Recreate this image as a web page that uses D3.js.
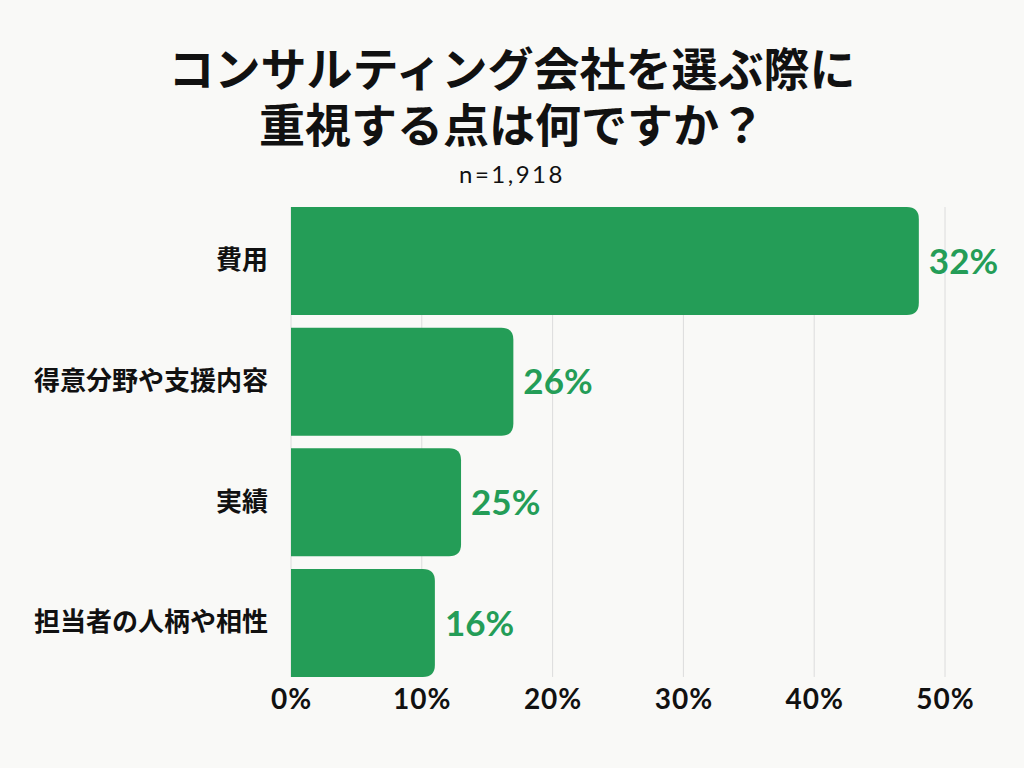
<!DOCTYPE html>
<html>
<head>
<meta charset="utf-8">
<script src="https://cdn.jsdelivr.net/npm/d3@7"></script>
<style>
  body { margin: 0; background: #f9f9f7; }
  #main { position: relative; width: 1024px; height: 768px; }
  svg { display: block; }
  #title {
    position: absolute; left: 0; top: 38px; width: 1024px;
    text-align: center;
    font-family: 'Noto Sans CJK JP', sans-serif;
    font-weight: 700; font-size: 46px; line-height: 56px;
    color: #111;
  }
</style>
</head>
<body>
<div id="main"></div>
<script>
const titleLines = ["コンサルティング会社を選ぶ際に", "重視する点は何ですか？"];
const categories = ["費用", "得意分野や支援内容", "実績", "担当者の人柄や相性"];
// bar lengths as drawn in the picture (in % of the axis)
const barValues = [48, 17, 13, 11];
// percentage labels printed next to each bar
const barLabels = ["32%", "26%", "25%", "16%"];
const xTicks = [0, 10, 20, 30, 40, 50];

const ctx = {
    w: 1024,
    h: 768,
    GREEN: "#249d57",
    RADIUS: 12
};

function barPath(x0, y0, x1, h, r) {
    // square on the left, rounded on the right
    r = Math.min(r, (x1 - x0), h / 2);
    return `M${x0},${y0}H${x1 - r}Q${x1},${y0} ${x1},${y0 + r}`
         + `V${y0 + h - r}Q${x1},${y0 + h} ${x1 - r},${y0 + h}H${x0}Z`;
}

function createViz() {
    let main = d3.select("#main");
    let svg = main.append("svg")
        .attr("width", ctx.w)
        .attr("height", ctx.h);

    svg.append("rect")
        .attr("width", ctx.w).attr("height", ctx.h)
        .attr("fill", "#f9f9f7");

    // title as html lines so the line boxes stack cleanly
    main.append("div").attr("id", "title")
        .selectAll("div")
        .data(titleLines)
        .enter()
        .append("div")
        .text((d) => d);

    let x = d3.scaleLinear().domain([0, 50]).range([291, 945]);
    let y = d3.scaleBand().domain(categories)
        .range([201, 683])
        .paddingInner(0.105)
        .paddingOuter(0.05);

    let top = y(categories[0]);
    let bottom = y(categories[categories.length - 1]) + y.bandwidth();

    svg.append("text")
        .attr("x", 512).attr("y", 183)
        .attr("text-anchor", "middle")
        .attr("font-family", "Lato, sans-serif")
        .attr("font-size", 24)
        .attr("letter-spacing", 2.5)
        .attr("fill", "#111")
        .text("n=1,918");

    // grid
    svg.append("g").selectAll("line")
        .data(xTicks)
        .enter()
        .append("line")
        .attr("x1", (d) => x(d)).attr("x2", (d) => x(d))
        .attr("y1", top).attr("y2", bottom)
        .attr("stroke", "#dcdcdc")
        .attr("stroke-width", 1);

    // bars
    svg.append("g").selectAll("path")
        .data(categories)
        .enter()
        .append("path")
        .attr("d", (d, i) => barPath(x(0), y(d), x(barValues[i]), y.bandwidth(), ctx.RADIUS))
        .attr("fill", ctx.GREEN);

    // value labels
    svg.append("g").selectAll("text")
        .data(categories)
        .enter()
        .append("text")
        .attr("x", (d, i) => x(barValues[i]) + 10)
        .attr("y", (d) => y(d) + y.bandwidth() / 2)
        .attr("dy", "0.36em")
        .attr("font-family", "Lato, sans-serif")
        .attr("font-weight", 700)
        .attr("font-size", 35)
        .attr("fill", ctx.GREEN)
        .text((d, i) => barLabels[i]);

    // category labels
    let yAxis = svg.append("g")
        .attr("transform", `translate(${x(0)},0)`)
        .call(d3.axisLeft(y).tickSize(0).tickPadding(23));
    yAxis.select(".domain").remove();
    yAxis.selectAll("text")
        .attr("font-family", "'Noto Sans CJK JP', sans-serif")
        .attr("font-weight", 700)
        .attr("font-size", 26)
        .attr("fill", "#111");

    // x axis labels
    let xAxis = svg.append("g")
        .attr("transform", `translate(0,${bottom})`)
        .call(d3.axisBottom(x).tickValues(xTicks).tickSize(0).tickPadding(12)
            .tickFormat((d) => d + "%"));
    xAxis.select(".domain").remove();
    xAxis.selectAll("text")
        .attr("font-family", "Lato, sans-serif")
        .attr("font-weight", 700)
        .attr("font-size", 28)
        .attr("letter-spacing", 1)
        .attr("fill", "#111");
}

createViz();
</script>
</body>
</html>
